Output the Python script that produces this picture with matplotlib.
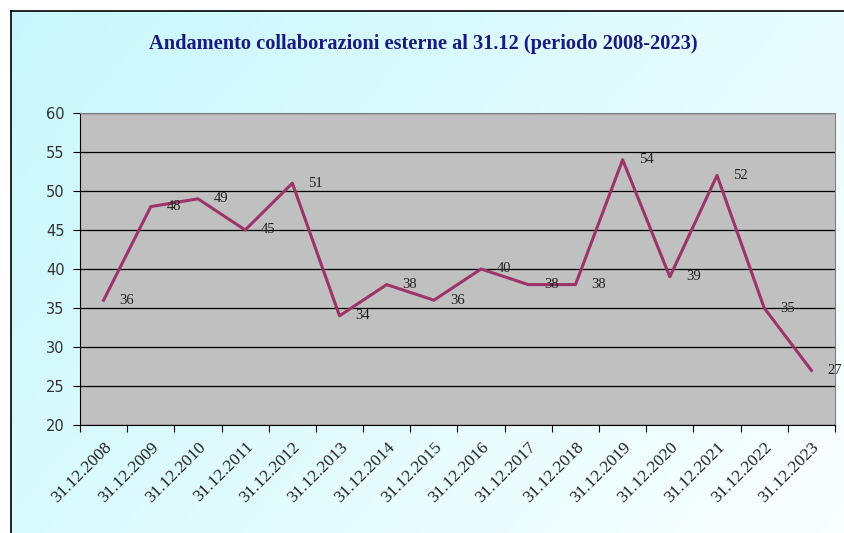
import matplotlib.pyplot as plt
import matplotlib.transforms as mtransforms
import numpy as np

years = ["31.12.%d" % y for y in range(2008, 2024)]
values = [36, 48, 49, 45, 51, 34, 38, 36, 40, 38, 38, 54, 39, 52, 35, 27]
title = "Andamento collaborazioni esterne al 31.12 (periodo 2008-2023)"

fig = plt.figure(figsize=(8.45, 5.33), dpi=100)
fig.patch.set_facecolor("white")

# gradient background inside the frame
bg = fig.add_axes([11 / 845, 0, 1 - 11 / 845, 1 - 11 / 533], zorder=0)
gx, gy = np.meshgrid(np.linspace(0, 1, 200), np.linspace(0, 1, 200))
t = np.clip(0.65 * gx + 0.35 * gy, 0, 1)
c0 = np.array([0.78, 0.97, 0.99])
c1 = np.array([0.98, 1.0, 1.0])
img = c0[None, None, :] * (1 - t[..., None]) + c1[None, None, :] * t[..., None]
bg.imshow(img, aspect="auto", extent=[0, 1, 0, 1], origin="upper")
bg.set_xlim(0, 1)
bg.set_ylim(0, 1)
bg.set_xticks([])
bg.set_yticks([])
for side in ["right", "bottom"]:
    bg.spines[side].set_visible(False)
for side in ["left", "top"]:
    bg.spines[side].set_color("black")
    bg.spines[side].set_linewidth(1.2)

ax = fig.add_axes([80 / 845, 1 - 425 / 533, (835 - 80) / 845, (425 - 113) / 533], zorder=1)
ax.set_facecolor("#c0c0c0")
x = np.arange(len(values))
ax.plot(x, values, color="#9b3568", linewidth=2.2, zorder=3)
for xi, v in zip(x, values):
    ax.annotate(str(v), (xi, v), xytext=(11.5, 0), textcoords="offset points",
                ha="left", va="center", fontsize=10.5, family="Liberation Serif",
                color="#222222", zorder=4, annotation_clip=False)

ax.set_xlim(-0.5, len(values) - 0.5)
ax.set_ylim(20, 60)
ax.set_yticks(range(20, 61, 5))
ax.yaxis.grid(True, color="black", linewidth=0.9)
ax.set_axisbelow(True)

ax.set_xticks(np.arange(-0.5, len(values), 1.0))
ax.set_xticklabels([])
ax.set_xticks(x, minor=True)
ax.set_xticklabels(years, minor=True, rotation=45, ha="right",
                   rotation_mode="anchor", fontsize=12.5, family="Liberation Serif",
                   color="#222222")
shift = mtransforms.ScaledTranslation(4 / 100, 0, fig.dpi_scale_trans)
for lab in ax.get_xticklabels(minor=True):
    lab.set_transform(lab.get_transform() + shift)
ax.tick_params(axis="x", which="major", length=5, color="black")
ax.tick_params(axis="x", which="minor", length=0, pad=10)
ax.tick_params(axis="y", length=5, labelsize=10.5, labelcolor="#333333", pad=6)

for side in ["top", "right"]:
    ax.spines[side].set_color("#808080")
for side in ["left", "bottom"]:
    ax.spines[side].set_color("black")

fig.text(423 / 845, 1 - 44 / 533, title, ha="center", va="center",
         fontsize=14.7, fontweight="bold", family="Liberation Serif", color="#1a1a80")

fig.savefig("out.png", dpi=100)
